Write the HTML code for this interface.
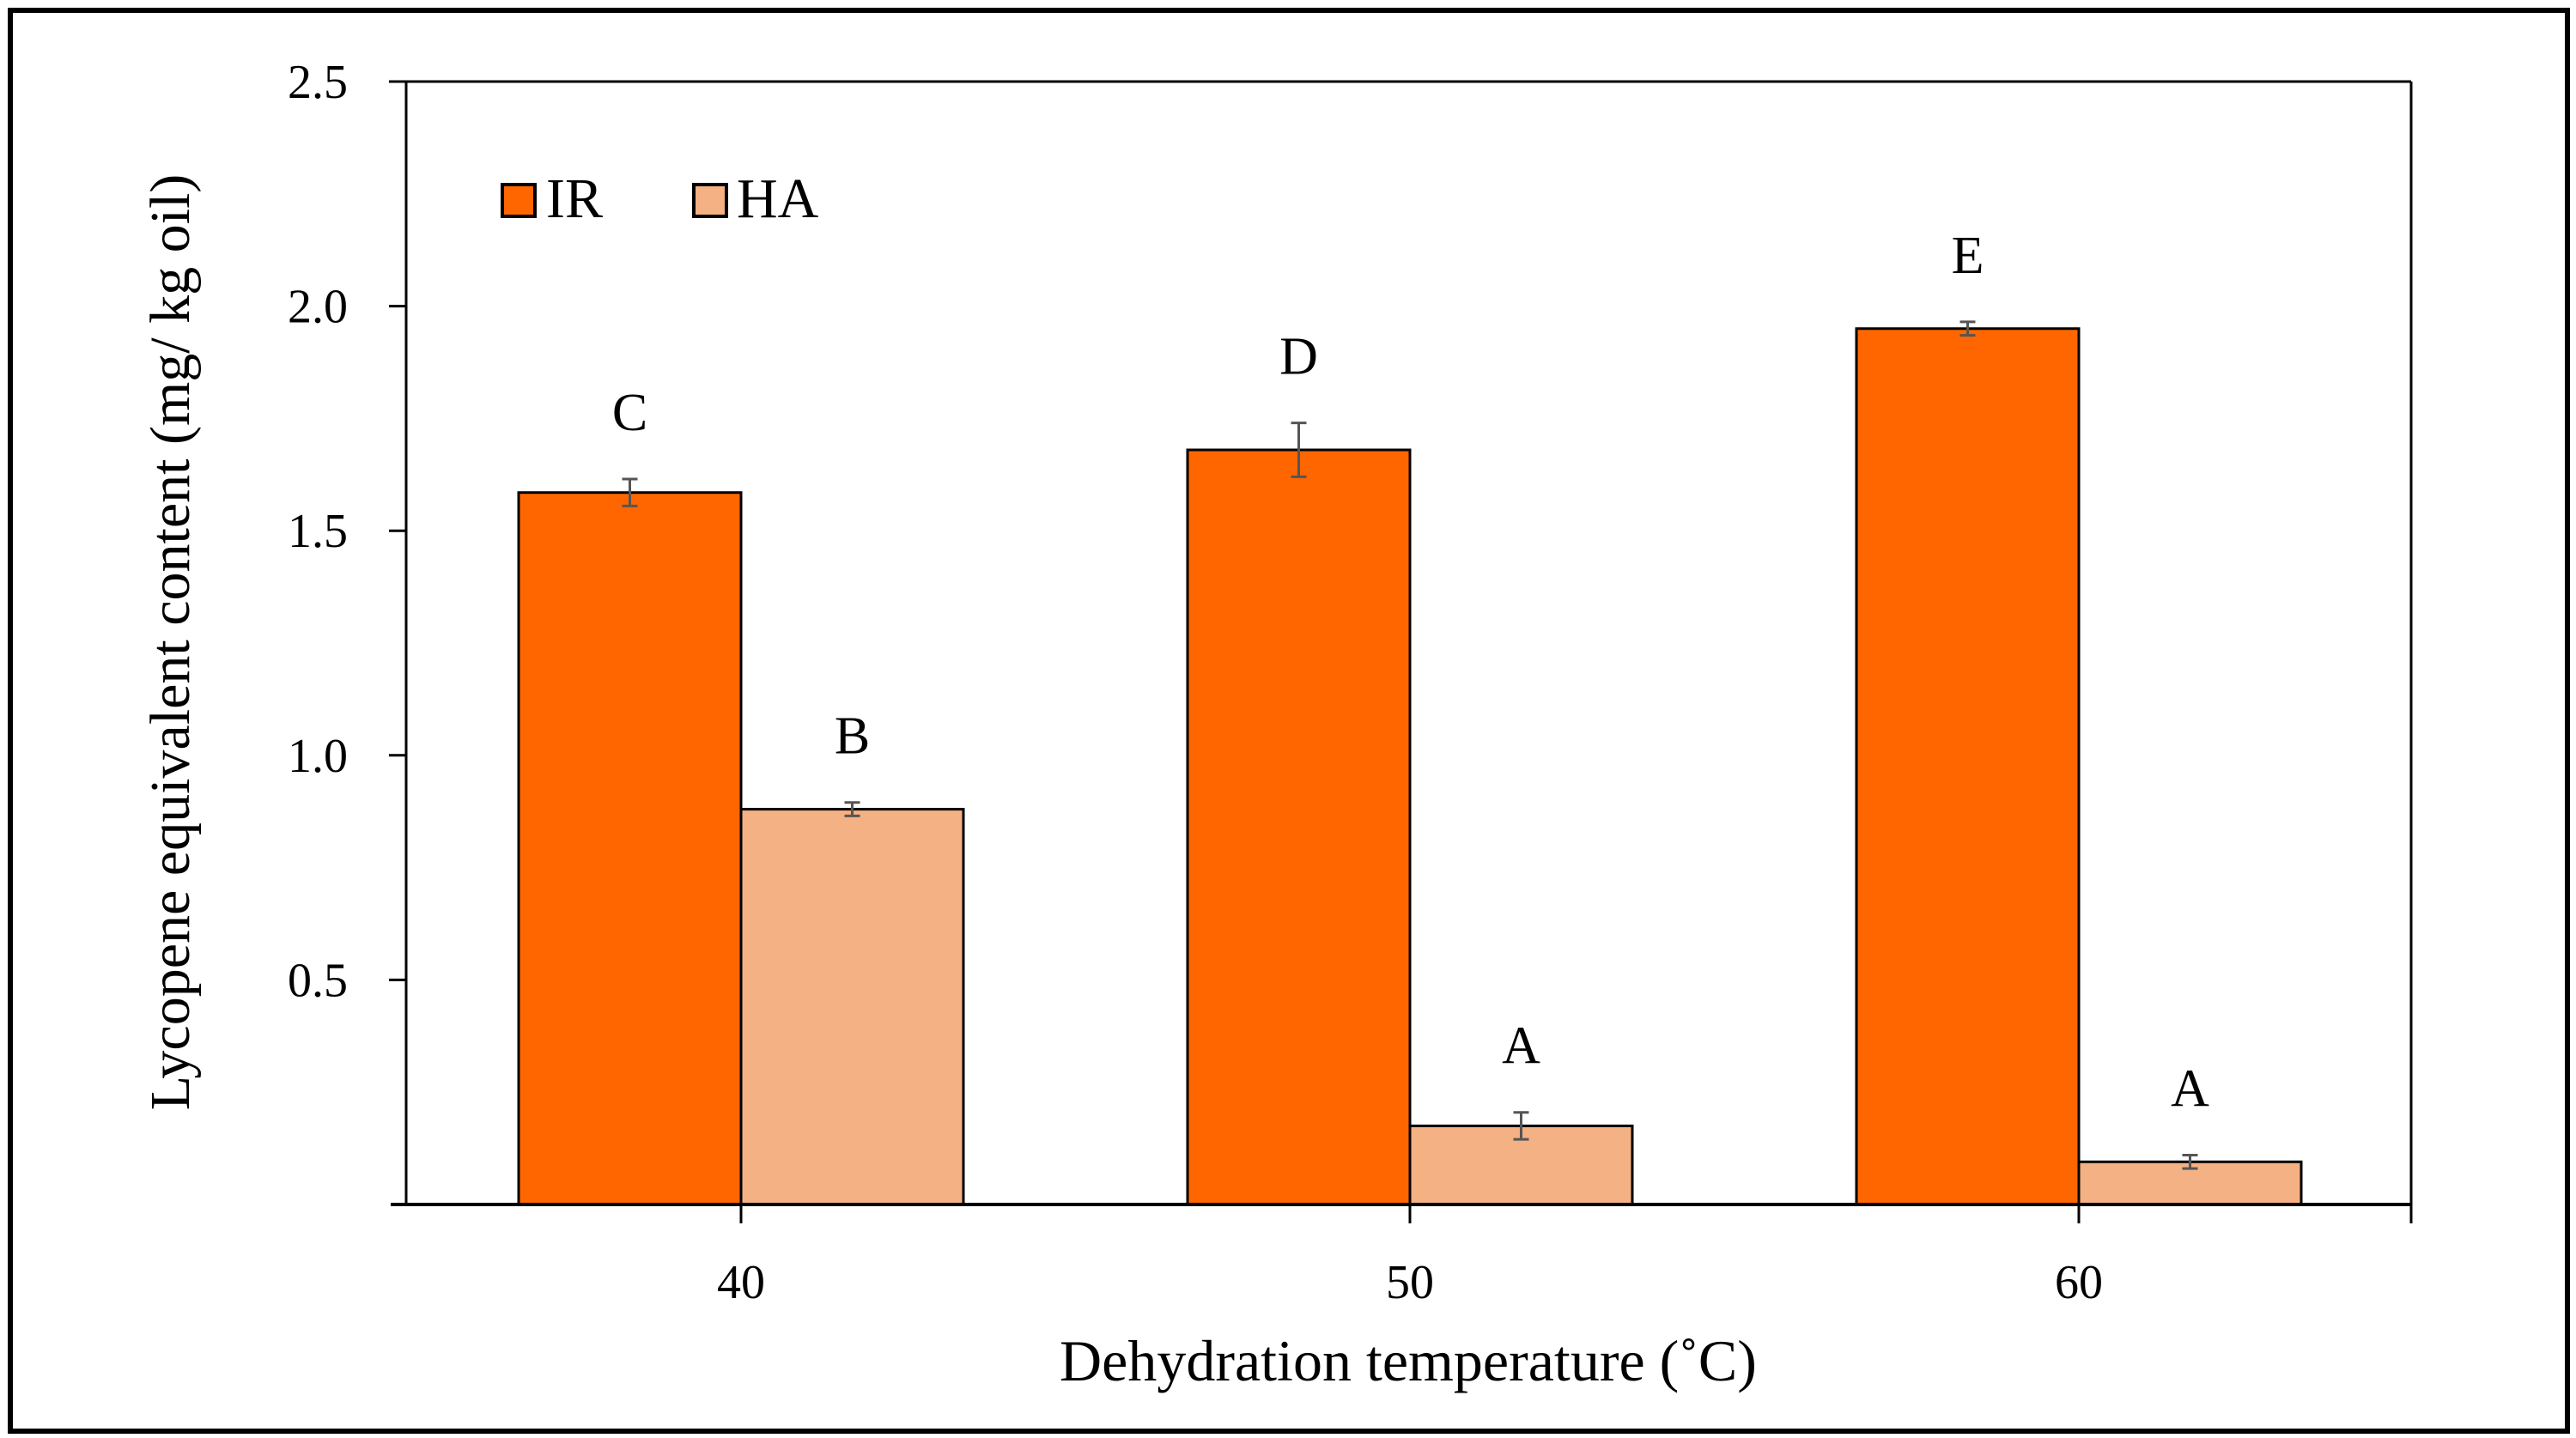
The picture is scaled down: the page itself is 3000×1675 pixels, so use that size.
<!DOCTYPE html>
<html><head><meta charset="utf-8"><style>
html,body{margin:0;padding:0;background:#fff}
svg{display:block}
text{font-family:"Liberation Serif",serif;fill:#000}
</style></head><body>
<svg id="chart" width="3000" height="1675" viewBox="0 0 3000 1675">
<rect x="12" y="12" width="2978" height="1655" fill="none" stroke="#000" stroke-width="6"/>
<g id="plot"></g>
<text x="0" y="0" transform="translate(220,748) rotate(-90)" text-anchor="middle" font-size="66">Lycopene equivalent  content  (mg/ kg oil)</text>
<text x="1640" y="1608" text-anchor="middle" font-size="68">Dehydration temperature (˚C)</text>
<g>
<rect x="585" y="215" width="38" height="37" fill="#ff6600" stroke="#000" stroke-width="4"/>
<text x="636" y="253" font-size="66">IR</text>
<rect x="808" y="215" width="38" height="37" fill="#f4b183" stroke="#000" stroke-width="4"/>
<text x="858" y="253" font-size="66">HA</text>
</g>
</svg>
<script>
const categories = ["40","50","60"];
const irValues = [1.585, 1.68, 1.95];
const haValues = [0.88, 0.175, 0.095];
const irErrors = [0.03, 0.06, 0.015];
const haErrors = [0.015, 0.03, 0.015];
const irLetters = ["C","D","E"];
const haLetters = ["B","A","A"];
const yTicks = [0.5, 1.0, 1.5, 2.0, 2.5];
const yTickLabels = ["0.5","1.0","1.5","2.0","2.5"];

const NS = "http://www.w3.org/2000/svg";
const plot = document.getElementById("plot");
const pLeft = 473, pRight = 2808, pTop = 95, pBottom = 1403, yMax = 2.5;
const catW = 779, barW = 259;
function y(v){ return pBottom - v / yMax * (pBottom - pTop); }
function cx(i){ return 863 + i * catW; }
function mk(tag, attrs){ const e = document.createElementNS(NS, tag); for (const k in attrs) e.setAttribute(k, attrs[k]); plot.appendChild(e); return e; }

let e = mk("line",{x1:pLeft,y1:pTop,x2:pRight,y2:pTop,stroke:"#000","stroke-width":3});


e = mk("line",{x1:pRight,y1:pTop,x2:pRight,y2:pBottom,stroke:"#000","stroke-width":3});


e = mk("line",{x1:pLeft,y1:pTop,x2:pLeft,y2:pBottom,stroke:"#000","stroke-width":3});



yTicks.forEach((t, i) => {
  const l = mk("line",{x1:pLeft-20,y1:y(t),x2:pLeft,y2:y(t),stroke:"#000","stroke-width":3});
  
  
  const tx = mk("text",{x:405,y:y(t)+19,"text-anchor":"end","font-size":56});
  tx.textContent = yTickLabels[i];
  
  
});

categories.forEach((c, i) => {
  const x0 = cx(i);
  const b1 = mk("rect",{x:x0-barW,y:y(irValues[i]),width:barW,height:pBottom-y(irValues[i]),fill:"#ff6600",stroke:"#000","stroke-width":3});
  
  
  const b2 = mk("rect",{x:x0,y:y(haValues[i]),width:barW,height:pBottom-y(haValues[i]),fill:"#f4b183",stroke:"#000","stroke-width":3});
  
  
  [[x0-barW/2, irValues[i], irErrors[i], irLetters[i], 'ir'],[x0+barW/2, haValues[i], haErrors[i], haLetters[i], 'ha']].forEach(([mx, v, er, let_, s]) => {
    const g = document.createElementNS(NS, "g"); plot.appendChild(g);
    
    
    [[mx,y(v-er),mx,y(v+er)],[mx-9,y(v-er),mx+9,y(v-er)],[mx-9,y(v+er),mx+9,y(v+er)]].forEach(p => {
      const l = document.createElementNS(NS,"line");
      l.setAttribute("x1",p[0]);l.setAttribute("y1",p[1]);l.setAttribute("x2",p[2]);l.setAttribute("y2",p[3]);
      l.setAttribute("stroke","#555");l.setAttribute("stroke-width",3);
      g.appendChild(l);
    });
    const t = mk("text",{x:mx,y:y(v+er)-57,"text-anchor":"middle","font-size":62});
    t.textContent = let_;
    
    
  });
  const tk = mk("line",{x1:x0,y1:pBottom,x2:x0,y2:pBottom+22,stroke:"#000","stroke-width":3});
  
  
  const tl = mk("text",{x:x0,y:1512,"text-anchor":"middle","font-size":56});
  tl.textContent = c;
  
  
});
e = mk("line",{x1:pRight,y1:pBottom,x2:pRight,y2:pBottom+22,stroke:"#000","stroke-width":3});


e = mk("line",{x1:455,y1:pBottom,x2:pRight,y2:pBottom,stroke:"#000","stroke-width":4});


</script>
</body></html>
